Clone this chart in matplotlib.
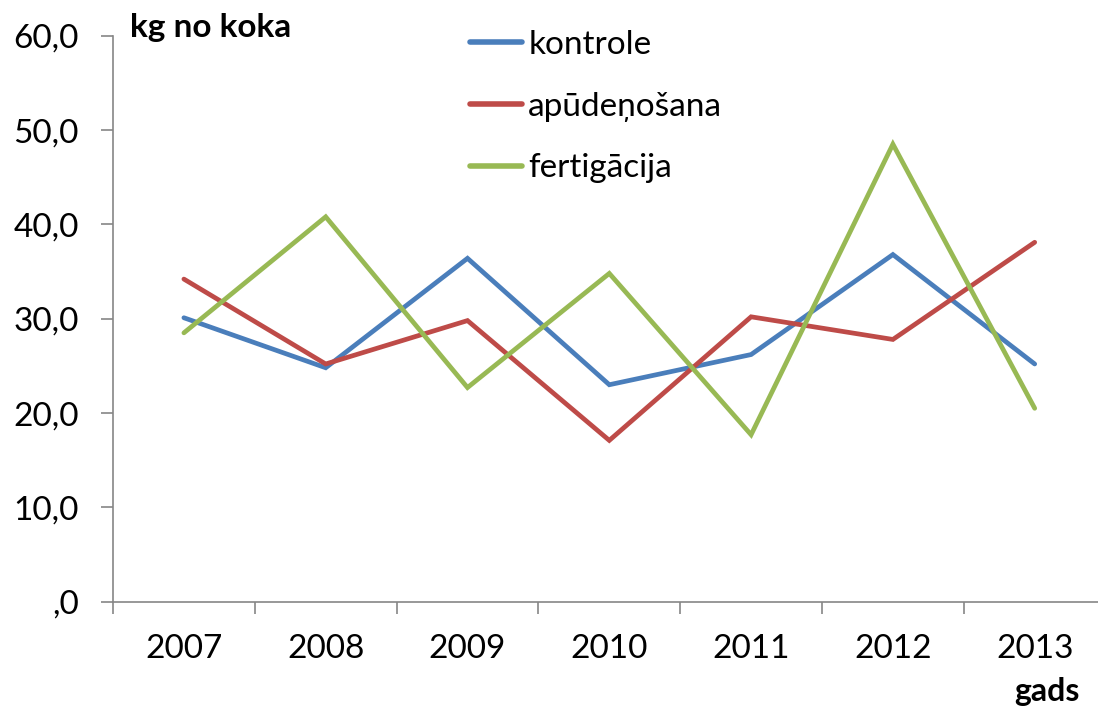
import matplotlib
matplotlib.use("Agg")
import matplotlib.pyplot as plt
from matplotlib.ticker import FixedLocator, FixedFormatter

plt.rcParams['font.family'] = ['Lato', 'DejaVu Sans']

years = ['2007', '2008', '2009', '2010', '2011', '2012', '2013']
kontrole = [30.1, 24.8, 36.4, 23.0, 26.2, 36.8, 25.2]
apudenosana = [34.2, 25.2, 29.8, 17.1, 30.2, 27.8, 38.1]
fertigacija = [28.5, 40.8, 22.7, 34.8, 17.7, 48.5, 20.5]
series_names = ['kontrole', 'apūdeņošana', 'fertigācija']
y_ticks = [0, 10, 20, 30, 40, 50, 60]
y_tick_labels = [',0', '10,0', '20,0', '30,0', '40,0', '50,0', '60,0']

colors = ['#4A7EBB', '#BE4B48', '#98B954']

W, H = 1098, 710
fig = plt.figure(figsize=(W / 100, H / 100), dpi=100)
ax = fig.add_axes([113 / W, (H - 601.7) / H, 992.6 / W, 566 / H])

x = list(range(len(years)))
for vals, name, c in zip([kontrole, apudenosana, fertigacija], series_names, colors):
    ax.plot(x, vals, color=c, lw=3.4, label=name, solid_capstyle='round', solid_joinstyle='miter')

ax.set_xlim(-0.5, len(years) - 0.5)
ax.set_ylim(0, 60)

for s in ['top', 'right']:
    ax.spines[s].set_visible(False)
for s in ['left', 'bottom']:
    ax.spines[s].set_color('#868686')
    ax.spines[s].set_linewidth(1.2)

ax.set_yticks(y_ticks)
ax.set_yticklabels(y_tick_labels)
ax.tick_params(axis='y', direction='out', length=8.6, width=1.2, color='#868686',
               labelsize=24, pad=16, labelcolor='black')

ax.xaxis.set_major_locator(FixedLocator(x))
ax.xaxis.set_major_formatter(FixedFormatter(years))
ax.xaxis.set_minor_locator(FixedLocator([i - 0.5 for i in range(len(years) + 1)]))
ax.tick_params(axis='x', which='major', length=0, labelsize=24, pad=23, labelcolor='black')
ax.tick_params(axis='x', which='minor', direction='out', length=8.6, width=1.2, color='#868686')

fig.text(130 / W, 1 - 27 / H, 'kg no koka', fontsize=24, fontweight='bold', va='center', ha='left')
fig.text(1080 / W, 1 - 692 / H, 'gads', fontsize=23, fontweight='bold', va='center', ha='right')

leg = ax.legend(loc='upper left', bbox_to_anchor=(470 / W, 1 - 30 / H), bbox_transform=fig.transFigure,
                frameon=False, fontsize=24, handlelength=1.55, handletextpad=0.2,
                labelspacing=0.95, borderpad=0, borderaxespad=0)
for line in leg.get_lines():
    line.set_linewidth(4.0)
    line.set_solid_capstyle('round')

fig.savefig('out.png', dpi=100)
